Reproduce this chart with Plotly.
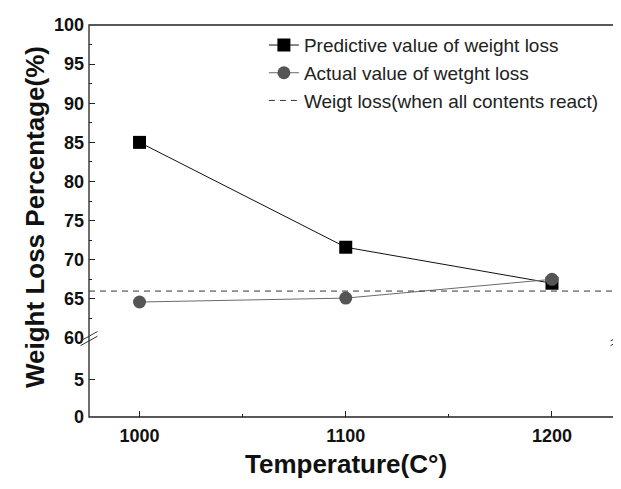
import plotly.graph_objects as go

# ---- data ----
temperature = [1000, 1100, 1200]
predictive = [85.0, 71.6, 67.0]
actual = [64.6, 65.1, 67.5]
all_react_level = 66.0
x_range = [975.5, 1232.5]
upper_range = [60, 100]
lower_range = [0, 10]
upper_ticks = [60, 65, 70, 75, 80, 85, 90, 95, 100]
lower_ticks = [0, 5]
x_ticks = [1000, 1100, 1200]

FONT = "Arial, 'Liberation Sans', sans-serif"

fig = go.Figure()

fig.add_trace(go.Scatter(
    x=temperature, y=predictive, mode="lines+markers",
    name="Predictive value of weight loss",
    line=dict(color="#111111", width=1),
    marker=dict(symbol="square", size=13, color="#000000"),
    xaxis="x", yaxis="y",
))
fig.add_trace(go.Scatter(
    x=temperature, y=actual, mode="lines+markers",
    name="Actual value of wetght loss",
    line=dict(color="#6a6a6a", width=1),
    marker=dict(symbol="circle", size=13, color="#555555"),
    xaxis="x", yaxis="y",
))
fig.add_trace(go.Scatter(
    x=x_range, y=[all_react_level, all_react_level], mode="lines",
    name="Weigt loss(when all contents react)",
    line=dict(color="#333333", width=1, dash="6px,5px"),
    xaxis="x", yaxis="y",
))
# invisible trace so that the lower (broken) y axis segment is drawn
fig.add_trace(go.Scatter(
    x=x_range, y=lower_range, mode="markers", marker=dict(opacity=0),
    showlegend=False, hoverinfo="skip", xaxis="x", yaxis="y2",
))

tickfont = dict(family=FONT, size=18, color="#111111")

fig.update_layout(
    width=621, height=489,
    margin=dict(l=81, r=10, t=17, b=80, autoexpand=False),
    paper_bgcolor="white", plot_bgcolor="white",
    showlegend=True,
    legend=dict(
        x=0.33, y=0.997, xanchor="left", yanchor="top",
        font=dict(family=FONT, size=19, color="#222222"),
        bgcolor="rgba(0,0,0,0)", tracegroupgap=0, itemwidth=30,
    ),
    xaxis=dict(
        range=x_range, tickvals=x_ticks, ticktext=[f"<b>{v}</b>" for v in x_ticks],
        ticks="inside", ticklen=6, automargin=False,
        tickcolor="#222", showgrid=False, zeroline=False, showline=False,
        anchor="y2", tickfont=tickfont, ticklabelstandoff=6,
        minor=dict(tickvals=[1050, 1150], ticks="inside", ticklen=3, tickcolor="#222"),
    ),
    yaxis=dict(
        domain=[0.2015, 1], range=upper_range, tickvals=upper_ticks,
        ticktext=[f"<b>{v}</b>" for v in upper_ticks], automargin=False,
        ticks="inside", ticklen=6, tickcolor="#222", showgrid=False,
        zeroline=False, showline=False, anchor="x", tickfont=tickfont,
        ticklabelstandoff=4,
        minor=dict(dtick=2.5, tick0=0, ticks="inside", ticklen=3, tickcolor="#222"),
    ),
    yaxis2=dict(
        domain=[0, 0.191], range=lower_range, tickvals=lower_ticks,
        ticktext=[f"<b>{v}</b>" for v in lower_ticks], automargin=False,
        ticks="inside", ticklen=6, tickcolor="#222", showgrid=False,
        zeroline=False, showline=False, anchor="x", tickfont=tickfont,
        ticklabelstandoff=4,
    ),
)

# frame
fig.add_shape(type="rect", xref="paper", yref="paper", x0=0, x1=1, y0=0, y1=1,
              line=dict(color="#222222", width=1.3), fillcolor="rgba(0,0,0,0)")

# axis break marks
for xc in (0.0, 1.0):
    for dy in (-0.006, 0.006):
        fig.add_shape(type="line", xref="paper", yref="paper",
                      x0=xc - 0.016, x1=xc + 0.016,
                      y0=0.188 + dy, y1=0.212 + dy,
                      line=dict(color="#333333", width=1))

fig.add_annotation(
    text="<b>Weight Loss Percentage(%)</b>", xref="paper", yref="paper",
    x=-0.102, y=0.51, textangle=-90, showarrow=False,
    font=dict(family=FONT, size=26, color="#111"), xanchor="center", yanchor="middle",
)
fig.add_annotation(
    text="<b>Temperature(C°)</b>", xref="paper", yref="paper",
    x=0.485, y=-0.12, showarrow=False,
    font=dict(family=FONT, size=26, color="#111"), xanchor="center", yanchor="middle",
)

fig.write_html("out.html")
